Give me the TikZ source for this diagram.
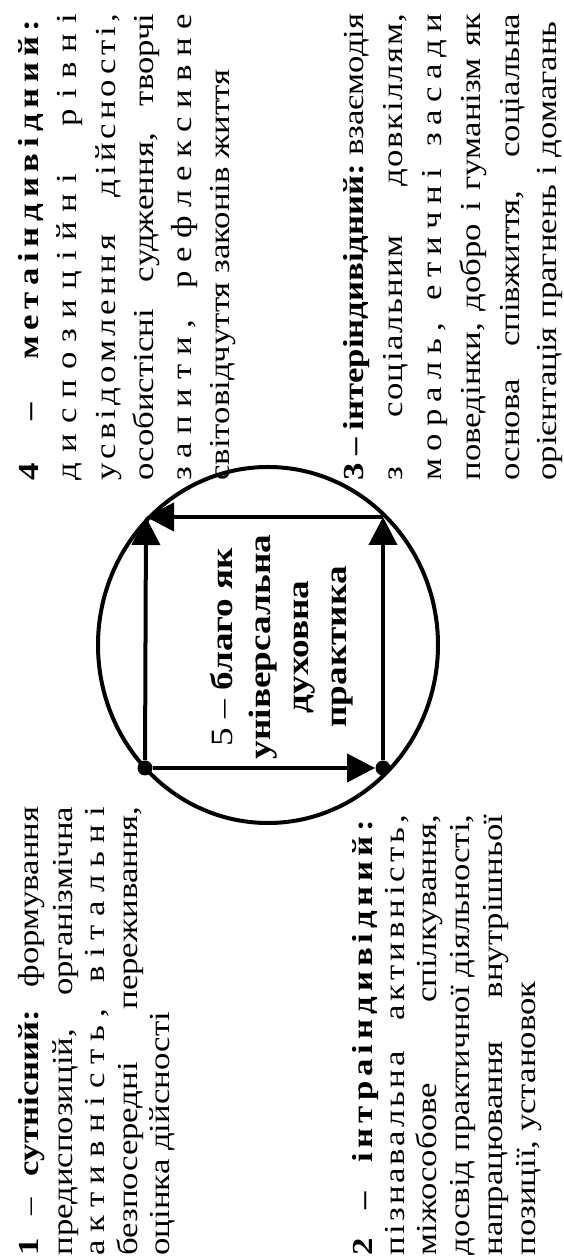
\documentclass[tikz,border=0pt]{standalone}
\usepackage{fontspec}
\setmainfont{Liberation Serif}[FakeStretch=1.2]
\usetikzlibrary{arrows.meta}
\frenchspacing
\newcommand{\osnova}{\fontsize{14.5}{16}\selectfont}
\newcommand{\rj}[2]{\makebox[#1][s]{#2}}
\newcommand{\rozr}[2]{{\addfontfeature{LetterSpace=#1}#2}}
\newlength{\shA}\setlength{\shA}{224.5pt}
\newlength{\shB}\setlength{\shB}{220.5pt}
\newlength{\shC}\setlength{\shC}{233.5pt}
\begin{document}
\begin{tikzpicture}[x=0.5pt,y=0.5pt,
    ryadok/.style={rotate=90, anchor=base west, inner sep=0pt, font=\osnova},
    strilka/.style={line width=2pt, -{Triangle[length=14pt,width=14pt]}},
    tochka/.style={circle, fill, inner sep=0pt, minimum size=7.5pt}]
\useasboundingbox (0,0) rectangle (563,1259);
% 1 - sutnisnyi
\node[ryadok] (s1) at (39,3) {\rj\shA{\textbf{1} – \textbf{сутнісний:} формування}};
\node[ryadok] (s2) at (72,3) {\rj\shA{предиспозицій, організмічна}};
\node[ryadok] (s3) at (104,3) {\rj\shA{\rozr{28}{активність,} \rozr{28}{вітальні}}};
\node[ryadok] (s4) at (137,3) {\rj\shA{безпосередні переживання,}};
\node[ryadok] (s5) at (169,3) {оцінка дійсності};
% 2 - intraindyvidnyi
\node[ryadok] (i1) at (372,3) {\rj\shB{\textbf{2 – \rozr{17}{інтраіндивідний:}}}};
\node[ryadok] (i2) at (404,3) {\rj\shB{\rozr{10}{пізнавальна} \rozr{14}{активність,}}};
\node[ryadok] (i3) at (436,3) {\rj\shB{міжособове спілкування,}};
\node[ryadok] (i4) at (469,3) {\rj\shB{досвід практичної діяльності,}};
\node[ryadok] (i5) at (502,3) {\rj\shB{напрацювання внутрішньої}};
\node[ryadok] (i6) at (535,3) {позиції, установок};
% 3 - interindyvidnyi
\node[ryadok] (e1) at (363,778) {\rj\shC{\textbf{3 – інтеріндивідний:} взаємодія}};
\node[ryadok] (e2) at (402,778) {\rj\shC{з \rozr{5}{соціальним} \rozr{5}{довкіллям,}}};
\node[ryadok] (e3) at (441,778) {\rj\shC{\rozr{25}{мораль,} \rozr{25}{етичні} \rozr{25}{засади}}};
\node[ryadok] (e4) at (480,778) {\rj\shC{поведінки, добро і гуманізм як}};
\node[ryadok] (e5) at (519,778) {\rj\shC{основа співжиття, соціальна}};
\node[ryadok] (e6) at (556,778) {орієнтація прагнень і домагань};
% 4 - metaindyvidnyi
\node[ryadok] (m1) at (39,778) {\rj\shC{\textbf{4 – \rozr{20}{метаіндивідний:}}}};
\node[ryadok] (m2) at (77,778) {\rj\shC{\rozr{35}{диспозиційні} \rozr{35}{рівні}}};
\node[ryadok] (m3) at (115,778) {\rj\shC{\rozr{14}{усвідомлення} \rozr{14}{дійсності,}}};
\node[ryadok] (m4) at (153,778) {\rj\shC{особистісні судження, творчі}};
\node[ryadok] (m5) at (191,778) {\rj\shC{\rozr{30}{запити,} \rozr{30}{рефлексивне}}};
\node[ryadok] (m6) at (229,778) {світовідчуття законів життя};
% kolo
\coordinate (krug) at (268,614);
\draw[line width=2pt] (krug) ellipse [x radius=170, y radius=178];
\node[tochka] (A) at (145,491) {};
\node[tochka] (D) at (383,491) {};
\coordinate (B) at (146,742);
\coordinate (C) at (383,742);
\draw[strilka] (A) -- (B);
\draw[strilka] (A) -- (D);
\draw[strilka] (D) -- (C);
\draw[strilka] (C) -- (B);
\node (blago) at (282,612) [rotate=90, align=center, font=\bfseries\fontsize{15.5}{19}\selectfont]
    {{\mdseries 5 –} благо як\\універсальна\\духовна\\практика};
\end{tikzpicture}
\end{document}
